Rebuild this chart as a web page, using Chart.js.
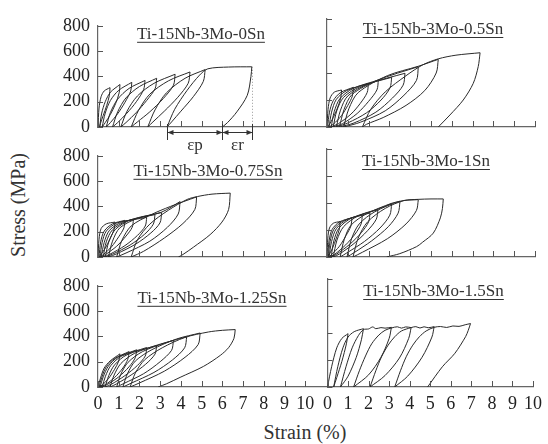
<!DOCTYPE html>
<html>
<head>
<meta charset="utf-8">
<script src="https://cdn.jsdelivr.net/npm/chart.js@4.4.1/dist/chart.umd.min.js"></script>
<style>
  body { margin: 0; background: #fff; }
  #wrap { position: relative; width: 548px; height: 444px; overflow: hidden; font-family: "Liberation Serif", "Times New Roman", serif; color: #333; }
  #wrap canvas { position: absolute; }
  .axis-title { position: absolute; font-size: 20px; font-weight: normal; line-height: 22px; white-space: nowrap; }
  #ytitle { left: -40px; top: 194px; width: 116px; text-align: center; transform: rotate(-90deg); }
  #xtitle { left: 255px; top: 421px; width: 100px; text-align: center; }
</style>
</head>
<body>
<div id="wrap">
  <div class="axis-title" id="ytitle">Stress (MPa)</div>
  <div class="axis-title" id="xtitle">Strain (%)</div>
</div>
<script>
// tick values
const yTicks = [0, 200, 400, 600, 800];
const xTicks = [0, 1, 2, 3, 4, 5, 6, 7, 8, 9, 10];

const titles = [
  "Ti-15Nb-3Mo-0Sn", "Ti-15Nb-3Mo-0.5Sn", "Ti-15Nb-3Mo-0.75Sn",
  "Ti-15Nb-3Mo-1Sn", "Ti-15Nb-3Mo-1.25Sn", "Ti-15Nb-3Mo-1.5Sn"
];

// each loop: loading from previous residual strain up to peak, then unloading
// [strain %, stress MPa]
const sn0Loops = [
  [[0,0],[0.05,150],[0.15,240],[0.3,285],[0.58,311],[0.55,250],[0.42,170],[0.25,90],[0.12,30],[0.08,0]],
  [[0.08,0],[0.18,110],[0.35,200],[0.6,275],[1.06,336],[1.02,270],[0.85,185],[0.6,100],[0.35,35],[0.2,0]],
  [[0.2,0],[0.35,110],[0.6,210],[1.0,290],[1.63,353],[1.58,285],[1.3,195],[0.95,105],[0.6,35],[0.4,0]],
  [[0.4,0],[0.6,115],[0.95,220],[1.5,305],[2.27,368],[2.2,295],[1.85,200],[1.4,110],[0.95,35],[0.7,0]],
  [[0.7,0],[0.95,120],[1.35,230],[2.0,320],[2.83,385],[2.76,305],[2.35,210],[1.85,115],[1.35,35],[1.1,0]],
  [[1.1,0],[1.4,125],[1.9,245],[2.7,345],[3.72,417],[3.64,330],[3.15,225],[2.5,120],[1.9,40],[1.6,0]],
  [[1.6,0],[1.95,130],[2.5,260],[3.4,365],[4.44,435],[4.35,345],[3.85,235],[3.2,125],[2.65,40],[2.4,0]],
  [[2.4,0],[2.75,135],[3.3,270],[4.2,385],[5.17,454],[5.08,360],[4.6,240],[4.0,125],[3.55,40],[3.33,0]],
  [[3.33,0],[3.7,140],[4.3,290],[4.9,410],[5.3,460],[6.3,474],[7.42,476],[7.38,400],[7.2,250],[6.7,120],[6.25,35],[6.0,0]]
];

const sn05Loops = [
  [[0,0],[0.05,130],[0.15,215],[0.35,258],[0.7,274],[0.66,215],[0.5,140],[0.3,70],[0.1,15],[0.03,0]],
  [[0.03,0],[0.12,110],[0.3,195],[0.65,255],[1.27,294],[1.22,230],[1.0,160],[0.7,85],[0.3,20],[0.1,0]],
  [[0.1,0],[0.22,110],[0.45,205],[0.95,270],[1.99,323],[1.93,255],[1.6,175],[1.15,95],[0.55,25],[0.2,0]],
  [[0.2,0],[0.35,115],[0.62,210],[1.25,285],[2.47,348],[2.4,275],[2.0,190],[1.45,100],[0.75,25],[0.3,0]],
  [[0.3,0],[0.47,120],[0.8,220],[1.6,300],[3.11,368],[3.03,290],[2.6,200],[1.9,105],[1.0,30],[0.45,0]],
  [[0.45,0],[0.65,125],[1.0,230],[2.0,320],[3.75,398],[3.66,310],[3.15,215],[2.35,110],[1.3,30],[0.6,0]],
  [[0.6,0],[0.82,130],[1.2,240],[2.4,345],[4.39,447],[4.3,345],[3.7,235],[2.8,120],[1.6,35],[0.8,0]],
  [[0.8,0],[1.05,135],[1.5,255],[2.9,380],[4.39,450],[5.35,501],[5.25,400],[4.7,270],[3.8,160],[2.7,70],[1.9,20],[1.7,0]],
  [[1.7,0],[2.1,130],[2.8,260],[3.8,380],[4.6,460],[5.35,505],[6.2,532],[7.36,550],[7.27,447],[7.03,323],[6.55,200],[5.91,89],[5.35,0]]
];

const sn075Loops = [
  [[0,0],[0.05,140],[0.15,225],[0.4,262],[0.82,276],[0.78,220],[0.6,150],[0.35,70],[0.12,15],[0.05,0]],
  [[0.05,0],[0.13,120],[0.3,205],[0.7,262],[1.3,290],[1.25,230],[1.0,160],[0.65,80],[0.25,18],[0.1,0]],
  [[0.1,0],[0.2,115],[0.4,205],[0.9,268],[1.71,296],[1.65,235],[1.35,165],[0.9,85],[0.35,18],[0.15,0]],
  [[0.15,0],[0.3,115],[0.55,210],[1.15,275],[2.35,313],[2.28,245],[1.9,170],[1.3,90],[0.55,20],[0.25,0]],
  [[0.25,0],[0.4,120],[0.7,215],[1.4,285],[2.75,335],[2.67,260],[2.25,180],[1.55,95],[0.7,22],[0.35,0]],
  [[0.35,0],[0.52,120],[0.85,220],[1.6,295],[3.07,351],[2.99,270],[2.55,190],[1.8,100],[0.9,25],[0.5,0]],
  [[0.5,0],[0.7,125],[1.05,230],[1.9,305],[3.07,355],[3.96,438],[3.87,340],[3.35,235],[2.5,125],[1.4,35],[0.9,0]],
  [[0.9,0],[1.15,130],[1.6,245],[2.5,330],[3.5,400],[4.76,475],[4.67,375],[4.1,265],[3.2,150],[2.2,45],[1.6,0]],
  [[1.6,0],[1.9,135],[2.5,260],[3.4,370],[4.3,455],[4.8,478],[5.5,497],[6.38,505],[6.3,375],[5.98,276],[5.41,177],[4.6,77],[4.1,20],[3.88,0]]
];

const sn1Loops = [
  [[0,0],[0.04,140],[0.12,215],[0.3,250],[0.63,263],[0.6,210],[0.45,140],[0.25,60],[0.08,12],[0.03,0]],
  [[0.03,0],[0.1,120],[0.25,205],[0.6,260],[1.2,290],[1.15,230],[0.92,160],[0.6,80],[0.2,15],[0.06,0]],
  [[0.06,0],[0.15,115],[0.33,205],[0.8,270],[1.7,310],[1.64,245],[1.35,170],[0.9,90],[0.35,18],[0.1,0]],
  [[0.1,0],[0.22,115],[0.45,210],[1.0,280],[2.07,326],[2.0,260],[1.65,180],[1.1,95],[0.45,20],[0.2,0]],
  [[0.2,0],[0.33,120],[0.58,215],[1.2,290],[2.45,350],[2.37,280],[1.95,195],[1.3,100],[0.6,22],[0.3,0]],
  [[0.3,0],[0.48,125],[0.8,225],[1.5,305],[2.45,355],[3.11,396],[3.02,310],[2.55,215],[1.8,115],[0.95,30],[0.63,0]],
  [[0.63,0],[0.83,130],[1.15,235],[1.9,320],[3.11,398],[3.51,413],[3.42,325],[2.95,225],[2.15,120],[1.3,32],[0.96,0]],
  [[0.96,0],[1.18,135],[1.55,245],[2.3,335],[3.51,413],[4.39,425],[4.3,345],[3.8,245],[2.9,135],[1.7,35],[1.25,0]],
  [[1.25,0],[1.5,140],[1.95,260],[2.8,360],[3.7,418],[4.39,427],[5.0,430],[5.59,430],[5.55,360],[5.45,290],[5.11,177],[4.6,110],[4.31,77],[3.5,25],[2.87,0]]
];

const sn125Loops = [
  [[0,0],[0.12,70],[0.3,150],[0.58,205],[1.06,262],[1.0,205],[0.8,140],[0.5,65],[0.2,15],[0.05,0]],
  [[0.05,0],[0.18,75],[0.4,160],[0.8,225],[1.5,280],[1.44,220],[1.2,150],[0.8,75],[0.35,18],[0.1,0]],
  [[0.1,0],[0.25,80],[0.5,165],[0.95,235],[1.87,294],[1.8,232],[1.5,160],[1.0,80],[0.45,20],[0.2,0]],
  [[0.2,0],[0.36,85],[0.62,170],[1.15,245],[2.35,312],[2.28,245],[1.9,170],[1.3,90],[0.65,22],[0.34,0]],
  [[0.34,0],[0.52,90],[0.8,175],[1.4,255],[2.83,328],[2.75,260],[2.3,180],[1.6,95],[0.9,25],[0.58,0]],
  [[0.58,0],[0.78,95],[1.1,185],[1.75,265],[2.83,330],[3.64,368],[3.55,290],[3.0,200],[2.2,105],[1.25,28],[0.9,0]],
  [[0.9,0],[1.1,100],[1.45,195],[2.15,280],[3.3,352],[4.28,397],[4.18,310],[3.6,215],[2.7,115],[1.6,30],[1.2,0]],
  [[1.2,0],[1.42,105],[1.8,205],[2.6,295],[3.8,380],[4.93,427],[4.83,335],[4.2,235],[3.2,125],[2.0,32],[1.55,0]],
  [[1.55,0],[1.8,110],[2.25,215],[3.1,310],[4.2,392],[5.33,435],[6.0,448],[6.62,454],[6.56,385],[6.3,311],[5.9,250],[5.09,163],[3.96,76],[3.3,25],[2.9,0]]
];

const sn15Loops = [
  [[0,0],[0.2,150],[0.45,290],[0.7,360],[1.0,395],[0.92,320],[0.7,190],[0.45,70],[0.3,0]],
  [[0.3,0],[0.5,150],[0.75,290],[1.0,370],[1.3,410],[1.75,432],[1.65,350],[1.4,220],[1.0,80],[0.63,0]],
  [[0.63,0],[0.9,150],[1.2,290],[1.5,380],[1.75,425],[2.0,430],[2.2,445],[2.35,432],[2.6,440],[2.8,436],[3.11,442],[3.0,360],[2.6,220],[2.0,90],[1.27,0]],
  [[1.27,0],[1.55,120],[1.85,230],[2.15,320],[2.5,385],[2.8,420],[3.11,437],[3.4,446],[3.6,436],[3.8,445],[4.07,440],[3.95,360],[3.5,215],[2.8,85],[2.07,0]],
  [[2.07,0],[2.35,120],[2.63,224],[2.95,310],[3.27,372],[3.6,415],[4.07,440],[4.3,447],[4.5,437],[4.7,446],[4.9,439],[5.19,447],[5.08,370],[4.6,220],[3.9,80],[3.27,0]],
  [[3.27,0],[3.55,120],[3.83,224],[4.15,310],[4.47,372],[4.8,415],[5.19,442],[5.5,448],[5.8,441],[6.1,452],[6.4,449],[6.7,461],[6.96,470],[6.85,420],[6.72,373],[6.2,250],[5.59,150],[4.87,0]]
];

// strain marks for the ep / er annotation on the first panel
const epsMarks = [3.33, 6.0, 7.42];
const epsPeak = 476;
const epsLabels = ["εp", "εr"];

const panels = [
  { title: titles[0], loops: sn0Loops, row: 0, col: 0, tx: 103, ty: 9, eps: true },
  { title: titles[1], loops: sn05Loops, row: 0, col: 1, tx: 106, ty: 11 },
  { title: titles[2], loops: sn075Loops, row: 1, col: 0, tx: 110, ty: 16 },
  { title: titles[3], loops: sn1Loops, row: 1, col: 1, tx: 99, ty: 13 },
  { title: titles[4], loops: sn125Loops, row: 2, col: 0, tx: 114, ty: 13 },
  { title: titles[5], loops: sn15Loops, row: 2, col: 1, tx: 106, ty: 13 }
];

const rowTop = [19, 149, 279];
const rowBottom = [127, 257, 387];
const serif = '"Liberation Serif", "Times New Roman", serif';

const decor = {
  id: "decor",
  afterDraw(chart, args, o) {
    const { ctx, chartArea: a, scales: { x, y } } = chart;
    ctx.save();
    // inward tick marks
    ctx.strokeStyle = "#555";
    ctx.lineWidth = 1;
    ctx.beginPath();
    yTicks.forEach(v => {
      const py = Math.round(y.getPixelForValue(v)) + 0.5;
      ctx.moveTo(a.left, py);
      ctx.lineTo(a.left + 5, py);
    });
    xTicks.forEach(v => {
      const px = Math.round(x.getPixelForValue(v)) + 0.5;
      ctx.moveTo(px, a.bottom);
      ctx.lineTo(px, a.bottom - 6);
    });
    ctx.stroke();

    // underlined panel title
    ctx.font = "17px " + serif;
    ctx.fillStyle = "#333";
    ctx.textAlign = "center";
    ctx.textBaseline = "middle";
    const cx = a.left + o.tx, cy = a.top + o.ty;
    ctx.fillText(o.title, cx, cy);
    const tw = ctx.measureText(o.title).width;
    ctx.fillRect(cx - tw / 2, cy + 7, tw, 1);

    if (o.eps) {
      const m = epsMarks.map(v => Math.round(x.getPixelForValue(v)) + 0.5);
      const b = a.bottom;
      ctx.strokeStyle = "#999";
      ctx.setLineDash([1, 2]);
      ctx.beginPath();
      ctx.moveTo(m[2], y.getPixelForValue(epsPeak));
      ctx.lineTo(m[2], b);
      ctx.stroke();
      ctx.setLineDash([]);
      ctx.strokeStyle = "#333";
      ctx.beginPath();
      m.forEach(px => { ctx.moveTo(px, b - 3); ctx.lineTo(px, b + 13); });
      const ay = b + 5.5;
      ctx.moveTo(m[0], ay); ctx.lineTo(m[2], ay);
      ctx.stroke();
      ctx.fillStyle = "#333";
      const head = (px, dir) => {
        ctx.beginPath();
        ctx.moveTo(px, ay);
        ctx.lineTo(px + dir * 6, ay - 2.5);
        ctx.lineTo(px + dir * 6, ay + 2.5);
        ctx.closePath();
        ctx.fill();
      };
      head(m[0], 1); head(m[1], -1); head(m[1], 1); head(m[2], -1);
      ctx.font = "17px " + serif;
      ctx.fillText(epsLabels[0], (m[0] + m[1]) / 2, b + 19);
      ctx.fillText(epsLabels[1], (m[1] + m[2]) / 2, b + 19);
    }
    ctx.restore();
  }
};

const wrap = document.getElementById("wrap");

panels.forEach(p => {
  const cv = document.createElement("canvas");
  const left = p.col === 0 ? 40 : 317;
  const w = p.col === 0 ? 300 : 231;
  const top = rowTop[p.row] - 12;
  const h = 12 + (rowBottom[p.row] - rowTop[p.row]) + 30;
  cv.width = w;
  cv.height = h;
  cv.style.left = left + "px";
  cv.style.top = top + "px";
  wrap.appendChild(cv);

  const datasets = [];
  p.loops.forEach(loop => {
    // split each loop at its largest strain so the peak stays sharp
    let k = 0;
    loop.forEach((pt, i) => { if (pt[0] > loop[k][0]) k = i; });
    [loop.slice(0, k + 1), loop.slice(k)].forEach(part => {
      datasets.push({
        data: part,
        showLine: true,
        borderColor: "#2a2a2a",
        borderWidth: 1,
        pointRadius: 0,
        tension: 0.3,
        fill: false
      });
    });
  });

  const bottomRow = p.row === 2;
  new Chart(cv, {
    type: "scatter",
    data: { datasets },
    options: {
      responsive: false,
      maintainAspectRatio: false,
      animation: false,
      devicePixelRatio: 1,
      layout: { padding: { top: 12, right: p.col === 0 ? 14 : 13, bottom: 0, left: 0 } },
      plugins: {
        legend: { display: false },
        tooltip: { enabled: false },
        decor: { title: p.title, tx: p.tx, ty: p.ty, eps: !!p.eps }
      },
      scales: {
        x: {
          type: "linear",
          min: 0,
          max: p.col === 0 ? 11 : 10,
          afterBuildTicks: s => { s.ticks = xTicks.map(v => ({ value: v })); },
          afterFit: s => { s.height = 30; },
          grid: { display: false, drawTicks: false },
          border: { display: true, color: "#666", width: 1.2 },
          ticks: {
            display: bottomRow,
            autoSkip: false,
            maxRotation: 0,
            padding: 6,
            color: "#222",
            font: { family: serif, size: 18 }
          }
        },
        y: {
          type: "linear",
          min: 0,
          max: 800,
          afterBuildTicks: s => { s.ticks = yTicks.map(v => ({ value: v })); },
          afterFit: s => { s.width = p.col === 0 ? 58 : 10; },
          grid: { display: false, drawTicks: false },
          border: { display: true, color: "#666", width: 1.2 },
          ticks: {
            display: p.col === 0,
            padding: 8,
            color: "#222",
            font: { family: serif, size: 18 }
          }
        }
      }
    },
    plugins: [decor]
  });
});
</script>
</body>
</html>
